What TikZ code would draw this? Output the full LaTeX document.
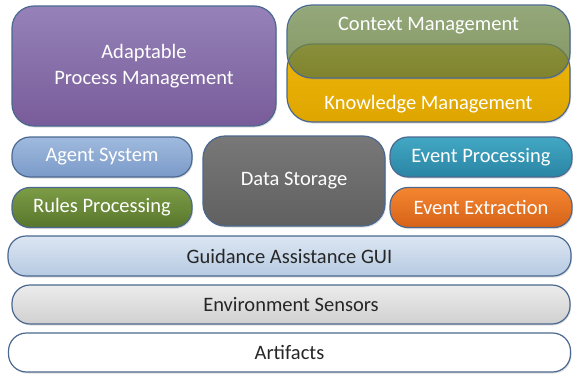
\documentclass[tikz,border=0pt]{standalone}
\usepackage{fontspec}
\setmainfont{Carlito}
\usetikzlibrary{shadows}
\definecolor{bord}{HTML}{4A6890}
\tikzset{
  box/.style={draw=bord, line width=1.2pt, rounded corners=#1, inner sep=0pt,
    drop shadow={opacity=0.25, shadow xshift=1pt, shadow yshift=-1.5pt}},
  box/.default=18pt,
  lbl/.style={font=\fontsize{20.5}{25}\selectfont, text=white, align=center},
  dlbl/.style={font=\fontsize{20.5}{25}\selectfont, text=black!85, align=center},
}
\begin{document}
\begin{tikzpicture}[x=1pt,y=-1pt]
\useasboundingbox (0,0) rectangle (573,375);
% top left
\node[box=22pt, minimum width=264pt, minimum height=120pt,
  top color={rgb,255:red,150;green,130;blue,184}, bottom color={rgb,255:red,120;green,92;blue,154},
  lbl, font=\fontsize{20.5}{26}\selectfont] (apm) at (144,66) {Adaptable\\Process Management};
% knowledge and context
\node[box=25pt, minimum width=283pt, minimum height=78pt,
  top color={rgb,255:red,240;green,184;blue,10}, bottom color={rgb,255:red,222;green,165;blue,0}] (km) at (428.5,83) {};
\node[box=25pt, minimum width=283pt, minimum height=73pt, fill opacity=0.72,
  top color={rgb,255:red,118;green,148;blue,84}, bottom color={rgb,255:red,100;green,120;blue,50}] (cm) at (428.5,41.5) {};
\node[lbl] (cmt) at (428.5,26) {Context Management};
\node[lbl] (kmt) at (428.5,104) {Knowledge Management};
% middle row
\node[box, minimum width=180pt, minimum height=40pt,
  top color={rgb,255:red,160;green,186;blue,222}, bottom color={rgb,255:red,122;green,154;blue,200}, lbl] (ag) at (102,157) {Agent System};
\node[box, minimum width=180pt, minimum height=40pt,
  top color={rgb,255:red,124;green,156;blue,70}, bottom color={rgb,255:red,88;green,118;blue,44}, lbl] (rp) at (102,207.5) {Rules Processing};
\node[box=22pt, minimum width=182pt, minimum height=90pt,
  top color={rgb,255:red,120;green,120;blue,120}, bottom color={rgb,255:red,96;green,96;blue,96}, lbl] (ds) at (294,181) {Data Storage};
\node[box, minimum width=182pt, minimum height=40pt,
  top color={rgb,255:red,66;green,168;blue,196}, bottom color={rgb,255:red,42;green,132;blue,164}, lbl] (ep) at (481,157) {Event Processing};
\node[box, minimum width=182pt, minimum height=40pt,
  top color={rgb,255:red,244;green,134;blue,48}, bottom color={rgb,255:red,214;green,98;blue,24}, lbl] (ee) at (481,207.5) {Event Extraction};
% bottom layers
\node[box, minimum width=563pt, minimum height=40pt,
  top color={rgb,255:red,220;green,230;blue,242}, bottom color={rgb,255:red,182;green,202;blue,226}, dlbl] (gui) at (289.5,256) {Guidance Assistance GUI};
\node[box, minimum width=558pt, minimum height=39pt,
  top color={rgb,255:red,236;green,236;blue,236}, bottom color={rgb,255:red,208;green,208;blue,208}, dlbl] (env) at (291,304.5) {Environment Sensors};
\node[box, minimum width=562pt, minimum height=39pt, fill=white, dlbl] (art) at (289.5,352.5) {Artifacts};
\end{tikzpicture}
\end{document}
